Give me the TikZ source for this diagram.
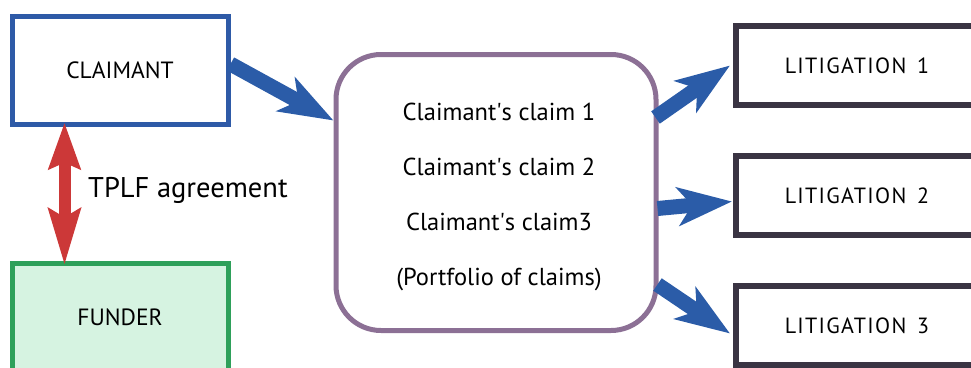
\documentclass[tikz,border=0pt]{standalone}
\usepackage{fontspec}
\setmainfont{PT Sans}
\usetikzlibrary{arrows.meta}
\definecolor{clblue}{HTML}{2E5AA7}
\definecolor{arrblue}{HTML}{2B5CA8}
\definecolor{fundgreen}{HTML}{2EA05A}
\definecolor{fundfill}{HTML}{D6F3E1}
\definecolor{agred}{HTML}{CC3838}
\definecolor{claimpurple}{HTML}{8C7095}
\definecolor{litdark}{HTML}{3A3443}
\tikzset{
  partybox/.style={draw, line width=5pt, minimum width=216pt, minimum height=108pt,
    inner sep=0pt, font=\fontsize{23.5}{27}\selectfont},
  litbox/.style={draw=litdark, line width=6pt, minimum width=242pt, minimum height=79pt,
    inner sep=0pt, font=\fontsize{22}{26}\selectfont\addfontfeatures{LetterSpace=6}},
  flow/.style={draw=arrblue, line width=15pt,
    -{Stealth[length=54pt,width=38pt,inset=14pt]}},
  agreement/.style={draw=agred, line width=12pt,
    {Stealth[length=46pt,width=31pt,inset=6pt]}-{Stealth[length=56pt,width=31pt,inset=8pt]}}
}
\begin{document}
\begin{tikzpicture}[x=1pt,y=-1pt]
\useasboundingbox (0,0) rectangle (971,367);
% parties
\node[partybox, draw=clblue] (claimant) at (120,70) {CLAIMANT};
\node[partybox, draw=fundgreen, fill=fundfill] (funder) at (120,317) {FUNDER};
% bundle of claims
\node[draw=claimpurple, line width=5pt, rounded corners=45pt,
      minimum width=320pt, minimum height=276pt, inner sep=0pt] (claims) at (496,192.5) {};
\node[align=center, font=\fontsize{24.5}{55}\selectfont, inner sep=0pt] (claimlist) at (499,197)
  {Claimant\textquotesingle s claim 1\\Claimant\textquotesingle s claim 2\\Claimant\textquotesingle s claim3\\(Portfolio of claims)};
% litigations
\node[litbox] (lit1) at (857,65.5) {LITIGATION\, 1};
\node[litbox] (lit2) at (857,195.5) {LITIGATION\, 2};
\node[litbox] (lit3) at (857,325.5) {LITIGATION\, 3};
% funding agreement
\draw[agreement] ([xshift=55pt,yshift=4pt]claimant.south west) -- ([xshift=55pt,yshift=-5pt]funder.north west);
\node[anchor=west, font=\fontsize{28.5}{33}\selectfont, inner sep=0pt] (tplf) at (88,190) {TPLF agreement};
% flows
\draw[flow] ([yshift=6pt]claimant.east) -- ([yshift=72pt]claims.west);
\draw[flow] ([xshift=-3pt,yshift=75pt]claims.east) -- ([xshift=-3pt]lit1.west);
\draw[flow] ([xshift=-1pt,yshift=-16pt]claims.east) -- ([xshift=-1pt,yshift=-6pt]lit2.west);
\draw[flow] ([xshift=-1pt,yshift=-92pt]claims.east) -- ([xshift=-3pt,yshift=-8pt]lit3.west);
\end{tikzpicture}
\end{document}
